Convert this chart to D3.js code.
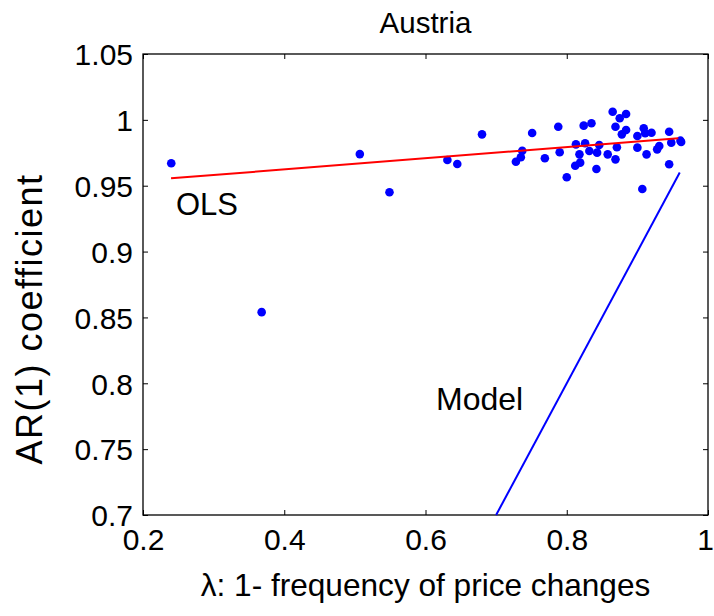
<!DOCTYPE html>
<html><head><meta charset="utf-8">
<script src="https://cdn.jsdelivr.net/npm/d3@7"></script>
<style>body{margin:0;background:#fff}text{font-family:"Liberation Sans",Arial,sans-serif;fill:#000}</style>
</head><body>
<svg id="c" width="714" height="616"></svg>
<script>
const title = "Austria";
const xLabel = "λ: 1- frequency of price changes";
const yLabel = "AR(1) coefficient";
const xTicks = [0.2, 0.4, 0.6, 0.8, 1.0];
const yTicks = [0.7, 0.75, 0.8, 0.85, 0.9, 0.95, 1.0, 1.05];
const lambda = [0.240,0.507,0.549,0.368,0.631,0.645,0.680,
  0.751,0.788,0.737,0.735,0.728,0.769,0.790,0.800,0.813,0.824,0.835,0.826,0.818,0.819,0.812,0.832,0.842,0.846,0.843,0.858,
  0.865,0.875,0.884,0.869,0.878,0.884,0.871,0.869,0.900,0.909,0.920,0.911,0.900,0.913,0.928,0.931,0.945,0.948,0.961,0.962,0.945,0.907];
const ar1 = [0.967,0.974,0.945,0.854,0.9695,0.9665,0.989,
  0.990,0.9948,0.9766,0.9716,0.9682,0.9708,0.9754,0.9564,0.9814,0.9956,0.9974,0.9822,0.9738,0.9675,0.9652,0.9764,0.9627,0.9809,0.9751,0.9738,
  1.0062,1.0012,1.0044,0.9948,0.9890,0.9923,0.9792,0.970,0.9877,0.9936,0.9902,0.9898,0.9789,0.9738,0.9776,0.9801,0.9910,0.9827,0.9842,0.9832,0.9663,0.9475];
const olsX = [0.2397, 0.958];
const olsY = [0.9556, 0.986];
const modelX = [0.70, 0.96];
const modelY = [0.70, 0.96];

const svg = d3.select("#c");
const L = 143, R = 708, T = 54, B = 515;
const x = d3.scaleLinear().domain([0.2, 1.0]).range([L, R]);
const y = d3.scaleLinear().domain([0.7, 1.05]).range([B, T]);
const fs = 30;
const fmt = d => String(+d.toFixed(2));

svg.append("rect").attr("x", L).attr("y", T).attr("width", R - L).attr("height", B - T)
  .attr("fill", "none").attr("stroke", "#000").attr("stroke-width", 1.3);

const tl = 5;
const xb = svg.append("g").attr("transform", `translate(0,${B})`)
  .call(d3.axisBottom(x).tickValues(xTicks).tickSize(-tl).tickFormat(fmt));
xb.select(".domain").remove();
xb.selectAll("text").attr("font-size", fs).attr("dy", 0).attr("y", 35)
  .attr("dx", d => d === 1.0 ? -3 : 0);
const xt = svg.append("g").attr("transform", `translate(0,${T})`)
  .call(d3.axisTop(x).tickValues(xTicks).tickSize(-tl).tickFormat(""));
xt.select(".domain").remove();
const yl = svg.append("g").attr("transform", `translate(${L},0)`)
  .call(d3.axisLeft(y).tickValues(yTicks).tickSize(-tl).tickFormat(fmt));
yl.select(".domain").remove();
yl.selectAll("text").attr("font-size", fs).attr("x", -10).attr("dy", "0.36em");
const yr = svg.append("g").attr("transform", `translate(${R},0)`)
  .call(d3.axisRight(y).tickValues(yTicks).tickSize(-tl).tickFormat(""));
yr.select(".domain").remove();

svg.append("g").selectAll("circle").data(lambda.map((v, i) => [v, ar1[i]])).join("circle")
  .attr("cx", d => x(d[0])).attr("cy", d => y(d[1])).attr("r", 4.3).attr("fill", "#0000ff");

const line = d3.line().x(d => x(d[0])).y(d => y(d[1]));
svg.append("path").attr("d", line(olsX.map((v, i) => [v, olsY[i]])))
  .attr("stroke", "#ff0000").attr("stroke-width", 2).attr("fill", "none");
svg.append("path").attr("d", line(modelX.map((v, i) => [v, modelY[i]])))
  .attr("stroke", "#0000ff").attr("stroke-width", 2).attr("fill", "none");

svg.append("text").attr("x", 176).attr("y", 215).attr("font-size", 31).text("OLS");
svg.append("text").attr("x", 436).attr("y", 410).attr("font-size", 32).text("Model");

svg.append("text").attr("x", (L + R) / 2).attr("y", 33).attr("text-anchor", "middle").attr("font-size", 29.5).text(title);
svg.append("text").attr("x", (L + R) / 2).attr("y", 596).attr("text-anchor", "middle").attr("font-size", 31.6).text(xLabel);
svg.append("text").attr("transform", `translate(42,319) rotate(-90)`).attr("text-anchor", "middle")
  .attr("font-size", 36).attr("letter-spacing", 1.5).text(yLabel);
</script>
</body></html>
